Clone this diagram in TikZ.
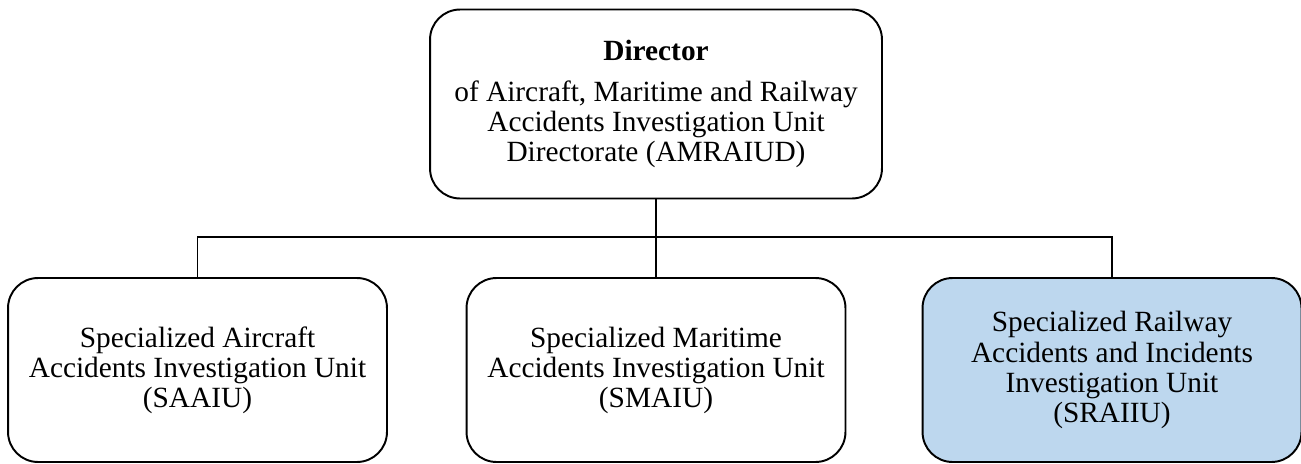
\documentclass[tikz,border=0pt]{standalone}
\usepackage{fontspec}
\setmainfont{Liberation Serif}
\usetikzlibrary{positioning, calc}
\definecolor{unitblue}{HTML}{BDD7EE}
\tikzset{
  box/.style = {
    draw, rounded corners=0.6cm, align=center, line width=1.1pt, fill=white,
    font=\fontsize{16.7}{17.1}\selectfont, inner sep=0pt
  },
  topbox/.style = {box, minimum width=9.04cm, minimum height=3.78cm},
  unitbox/.style = {box, minimum width=7.58cm, minimum height=3.68cm},
  link/.style = {line width=1.1pt},
}
\begin{document}
\begin{tikzpicture}[x=0.02cm, y=-0.02cm]
    \useasboundingbox (0,0) rectangle (1301,463);

    % Director on top
    \node[topbox] (director) at (656,104) {\textbf{Director}\\[6pt]
      of Aircraft, Maritime and Railway\\
      Accidents Investigation Unit\\
      Directorate (AMRAIUD)};

    % the three specialized units
    \node[unitbox] (saaiu) at (197.5,370) {Specialized Aircraft\\
      Accidents Investigation Unit\\
      (SAAIU)};
    \node[unitbox] (smaiu) at (656,370) {Specialized Maritime\\
      Accidents Investigation Unit\\
      (SMAIU)};
    \node[unitbox, fill=unitblue] (sraiiu) at (1112,370) {Specialized Railway\\
      Accidents and Incidents\\
      Investigation Unit\\
      (SRAIIU)};

    % tree lines
    \coordinate (bus) at (656,237);
    \draw[link] (director.south) -- (bus);
    \draw[link] (saaiu.north) |- (bus) -| (sraiiu.north);
    \draw[link] (bus) -- (smaiu.north);

\end{tikzpicture}
\end{document}
